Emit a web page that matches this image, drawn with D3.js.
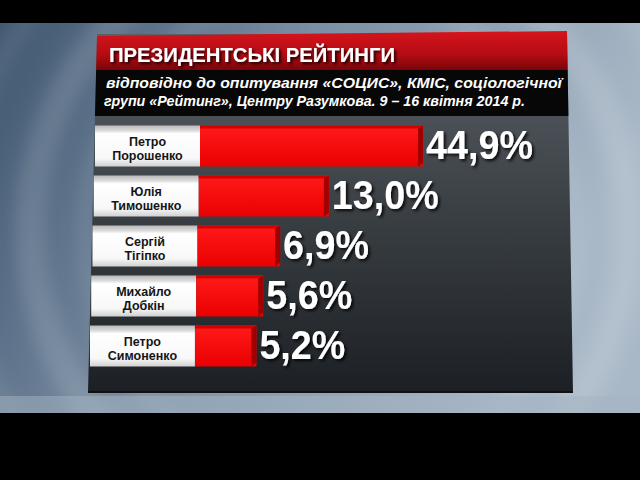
<!DOCTYPE html>
<html>
<head>
<meta charset="utf-8">
<script src="https://cdn.jsdelivr.net/npm/d3@7"></script>
<style>
  html, body { margin: 0; padding: 0; background: #000; }
  svg { display: block; }
</style>
</head>
<body>
<svg id="chart" width="640" height="480"></svg>
<script>
// ---- data ----
const titleText = "ПРЕЗИДЕНТСЬКІ РЕЙТИНГИ";
const subtitleLines = [
  "відповідно до опитування «СОЦИС», КМІС, соціологічної",
  "групи «Рейтинг», Центру Разумкова. 9 – 16 квітня 2014 р."
];
const candidates = ["Петро Порошенко", "Юлія Тимошенко", "Сергій Тігіпко", "Михайло Добкін", "Петро Симоненко"];
const ratings = [44.9, 13.0, 6.9, 5.6, 5.2];

const data = candidates.map((c, i) => ({ name: c, value: ratings[i] }));
const fmt = v => d3.format(".1f")(v).replace(".", ",") + "%";

const svg = d3.select("#chart");
const defs = svg.append("defs");

// gradients
const bg = defs.append("linearGradient").attr("id", "bgGrad").attr("x1", 0).attr("y1", 0).attr("x2", 1).attr("y2", 0.3);
bg.append("stop").attr("offset", "0").attr("stop-color", "#3f5670");
bg.append("stop").attr("offset", "0.45").attr("stop-color", "#7a8ea3");
bg.append("stop").attr("offset", "1").attr("stop-color", "#a9b8c7");

const pg = defs.append("linearGradient").attr("id", "panelGrad").attr("x1", 0).attr("y1", 0).attr("x2", 0).attr("y2", 1);
pg.append("stop").attr("offset", "0").attr("stop-color", "#5a6066");
pg.append("stop").attr("offset", "0.5").attr("stop-color", "#3a3f44");
pg.append("stop").attr("offset", "1").attr("stop-color", "#1c2024");

const hg = defs.append("linearGradient").attr("id", "headGrad").attr("x1", 0).attr("y1", 0).attr("x2", 0).attr("y2", 1);
hg.append("stop").attr("offset", "0").attr("stop-color", "#d6141c");
hg.append("stop").attr("offset", "0.6").attr("stop-color", "#b50c14");
hg.append("stop").attr("offset", "1").attr("stop-color", "#7a0509");

const lg = defs.append("linearGradient").attr("id", "labGrad").attr("x1", 0).attr("y1", 0).attr("x2", 0).attr("y2", 1);
lg.append("stop").attr("offset", "0").attr("stop-color", "#b9b9b9");
lg.append("stop").attr("offset", "0.12").attr("stop-color", "#d9d9d9");
lg.append("stop").attr("offset", "0.2").attr("stop-color", "#ffffff");
lg.append("stop").attr("offset", "0.8").attr("stop-color", "#f8f8f8");
lg.append("stop").attr("offset", "1").attr("stop-color", "#d0d0d0");

const rg = defs.append("linearGradient").attr("id", "redGrad").attr("x1", 0).attr("y1", 0).attr("x2", 0).attr("y2", 1);
rg.append("stop").attr("offset", "0").attr("stop-color", "#ff1a1a");
rg.append("stop").attr("offset", "1").attr("stop-color", "#ea0000");

const sh = defs.append("filter").attr("id", "shadow").attr("x", "-20%").attr("y", "-20%").attr("width", "150%").attr("height", "160%");
sh.append("feDropShadow").attr("dx", 2).attr("dy", 2).attr("stdDeviation", 1.5).attr("flood-color", "#000").attr("flood-opacity", 0.85);

const blur = defs.append("filter").attr("id", "soft").attr("x", "-20%").attr("y", "-20%").attr("width", "140%").attr("height", "140%");
blur.append("feGaussianBlur").attr("stdDeviation", 8);

// background
svg.append("rect").attr("x", 0).attr("y", 0).attr("width", 640).attr("height", 480).attr("fill", "#000");
svg.append("rect").attr("x", 0).attr("y", 23).attr("width", 640).attr("height", 390).attr("fill", "url(#bgGrad)");
defs.append("clipPath").attr("id", "bgClip").append("rect").attr("x", 0).attr("y", 23).attr("width", 640).attr("height", 390);
const ringG = svg.append("g").attr("clip-path", "url(#bgClip)").attr("filter", "url(#soft)");
[[330, 230, 300, 30, 0.12], [330, 230, 245, 14, 0.09], [330, 230, 370, 20, 0.08]].forEach(r => {
  ringG.append("circle").attr("cx", r[0]).attr("cy", r[1]).attr("r", r[2])
    .attr("fill", "none").attr("stroke", "#ffffff").attr("stroke-width", r[3]).attr("stroke-opacity", r[4]);
});
// light strip under panel
svg.append("rect").attr("x", 0).attr("y", 396).attr("width", 640).attr("height", 17).attr("fill", "#a4b3c2").attr("opacity", 0.5);

// panel geometry (slight perspective)
const lx = d3.scaleLinear().domain([36, 392]).range([97, 88]);
const rx = d3.scaleLinear().domain([31, 393]).range([567, 573]);
const poly = (y0, y1) => [[lx(y0), y0], [rx(y0), y0], [rx(y1), y1], [lx(y1), y1]].map(p => p.join(",")).join(" ");

const yHeadTop = 34, yHeadBot = 70, ySubBot = 116, yPanelBot = 393;
svg.append("polygon").attr("points", poly(yHeadTop, yPanelBot)).attr("fill", "url(#panelGrad)");
svg.append("polygon").attr("points", [[lx(36), 36], [rx(31), 31], [rx(yHeadBot), yHeadBot], [lx(yHeadBot), yHeadBot]].map(p => p.join(",")).join(" ")).attr("fill", "url(#headGrad)");
svg.append("polygon").attr("points", poly(yHeadBot, ySubBot)).attr("fill", "#070707");
svg.append("polygon").attr("points", poly(yPanelBot - 2, yPanelBot)).attr("fill", "#111");

// title
svg.append("text").attr("x", 109).attr("y", 62)
  .attr("font-family", "'Liberation Sans', Arial, sans-serif").attr("font-weight", "bold").attr("font-size", 19.5)
  .attr("fill", "#fff").attr("filter", "url(#shadow)")
  .attr("textLength", 286).attr("lengthAdjust", "spacingAndGlyphs")
  .text(titleText);

// subtitle
const subX = [106, 104], subY = [88, 106], subLen = [456, 421];
svg.selectAll("text.sub").data(subtitleLines).join("text").attr("class", "sub")
  .attr("x", (d, i) => subX[i]).attr("y", (d, i) => subY[i])
  .attr("font-family", "'Liberation Sans', Arial, sans-serif").attr("font-weight", "bold").attr("font-style", "italic")
  .attr("font-size", 15).attr("fill", "#fff")
  .attr("textLength", (d, i) => subLen[i]).attr("lengthAdjust", "spacingAndGlyphs")
  .text(d => d);

// scales
const y = d3.scaleBand().domain(candidates).range([121, 371]).paddingInner(0.18).paddingOuter(0.09);
const x = d3.scaleLog().domain([2.29, 44.9]).range([0, 223]);
const barStart = d => 200 + (lx(y(d.name)) - lx(y(candidates[0])));
const labLeft = d => 95 + (lx(y(d.name)) - lx(y(candidates[0])));

const rows = svg.selectAll("g.row").data(data).join("g").attr("class", "row");
const h = y.bandwidth();

// label boxes
rows.append("rect")
  .attr("x", d => labLeft(d)).attr("y", d => y(d.name))
  .attr("width", d => barStart(d) - labLeft(d)).attr("height", h)
  .attr("fill", "url(#labGrad)");

rows.append("text")
  .attr("text-anchor", "middle")
  .attr("font-family", "'Liberation Sans', Arial, sans-serif").attr("font-weight", "bold").attr("font-size", 12.5)
  .attr("fill", "#151515")
  .each(function(d) {
    const parts = d.name.split(" ");
    const cx = (labLeft(d) + barStart(d)) / 2;
    d3.select(this).selectAll("tspan").data(parts).join("tspan")
      .attr("x", cx).attr("y", (p, i) => y(d.name) + 20 + i * 14.5).text(p => p);
  });

// bars: front face
rows.append("rect")
  .attr("x", d => barStart(d)).attr("y", d => y(d.name))
  .attr("width", d => x(d.value)).attr("height", h)
  .attr("fill", "url(#redGrad)");
// top bevel
rows.append("polygon")
  .attr("points", d => {
    const x0 = barStart(d), x1 = x0 + x(d.value), yy = y(d.name);
    return [[x0, yy], [x1, yy], [x1 - 5, yy + 3], [x0, yy + 3]].map(p => p.join(",")).join(" ");
  })
  .attr("fill", "#d40000");
// right side
rows.append("polygon")
  .attr("points", d => {
    const x0 = barStart(d), x1 = x0 + x(d.value), yy = y(d.name);
    return [[x1 - 5, yy + 3], [x1, yy], [x1, yy + h - 4], [x1 - 5, yy + h]].map(p => p.join(",")).join(" ");
  })
  .attr("fill", "#a00000");

// values
rows.append("text")
  .attr("x", d => barStart(d) + x(d.value) + 3)
  .attr("y", d => y(d.name) + 33)
  .attr("font-family", "'Liberation Sans', Arial, sans-serif").attr("font-weight", "bold").attr("font-size", 41)
  .attr("fill", "#fff").attr("filter", "url(#shadow)")
  .text(d => fmt(d.value))
  .each(function() {
    const w = this.getComputedTextLength();
    d3.select(this).attr("textLength", w * 0.92).attr("lengthAdjust", "spacingAndGlyphs");
  });
</script>
</body>
</html>
